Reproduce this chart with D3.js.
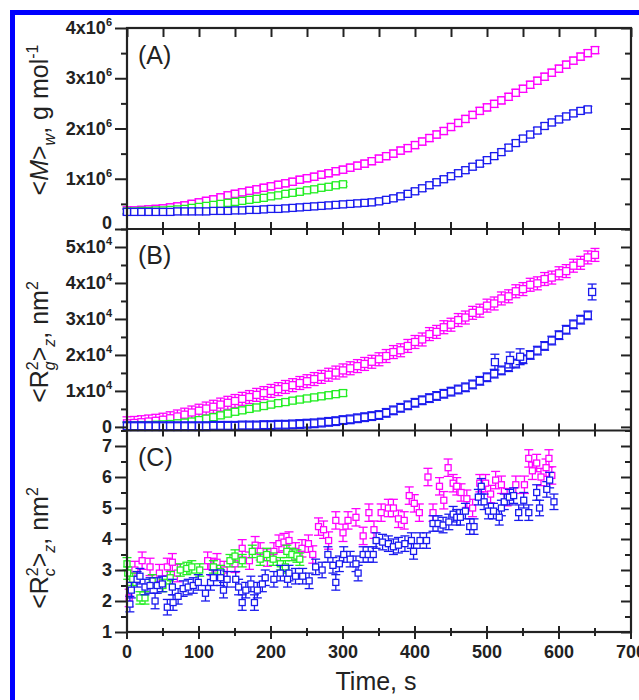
<!DOCTYPE html>
<html>
<head>
<meta charset="utf-8">
<script src="https://cdn.jsdelivr.net/npm/d3@7"></script>
<style>
  body { margin: 0; background: #fff; }
  text { font-family: "Liberation Sans", Arial, sans-serif; }
</style>
</head>
<body>
<svg id="chart" width="639" height="700"></svg>
<script>
  // ---- data ----
  // panels A and B: sampled every 10 s (A in 1e6 g/mol, B in 1e4 nm^2)
  var timesAB = [0,10,20,30,40,50,60,70,80,90,100,110,120,130,140,150,160,170,180,190,
    200,210,220,230,240,250,260,270,280,290,300,310,320,330,340,350,360,370,380,390,
    400,410,420,430,440,450,460,470,480,490,500,510,520,530,540,550,560,570,580,590,
    600,610,620,630,640,650];

  var magentaA = [0.37,0.37,0.38,0.39,0.40,0.41,0.43,0.45,0.47,0.50,
    0.53,0.56,0.59,0.63,0.67,0.70,0.73,0.76,0.79,0.82,
    0.85,0.88,0.91,0.94,0.98,1.01,1.04,1.08,1.11,1.15,
    1.18,1.22,1.26,1.30,1.35,1.40,1.45,1.50,1.56,1.61,
    1.67,1.74,1.81,1.88,1.95,2.03,2.11,2.19,2.27,2.35,
    2.42,2.49,2.56,2.63,2.71,2.79,2.87,2.95,3.03,3.11,
    3.19,3.27,3.35,3.43,3.50,3.56];
  var blueA = [0.34,0.34,0.34,0.34,0.34,0.34,0.34,0.35,0.35,0.35,
    0.35,0.35,0.36,0.36,0.36,0.37,0.37,0.38,0.38,0.39,
    0.40,0.40,0.41,0.42,0.43,0.44,0.45,0.46,0.47,0.48,
    0.49,0.50,0.51,0.52,0.53,0.55,0.58,0.61,0.65,0.70,
    0.75,0.81,0.87,0.93,0.99,1.05,1.11,1.17,1.24,1.30,
    1.37,1.45,1.53,1.62,1.71,1.80,1.88,1.96,2.05,2.12,
    2.18,2.24,2.30,2.35,2.38];
  var greenA = [0.35,0.35,0.36,0.36,0.37,0.37,0.38,0.39,0.40,0.42,
    0.44,0.46,0.48,0.50,0.52,0.54,0.56,0.58,0.60,0.62,
    0.65,0.67,0.70,0.72,0.74,0.77,0.79,0.82,0.84,0.87,0.89];

  var magentaB = [0.10,0.11,0.13,0.15,0.17,0.20,0.24,0.29,0.34,0.40,
    0.45,0.51,0.56,0.62,0.67,0.72,0.78,0.83,0.89,0.94,
    1.00,1.05,1.11,1.16,1.22,1.27,1.33,1.39,1.45,1.51,
    1.57,1.63,1.69,1.75,1.81,1.88,1.97,2.08,2.13,2.25,
    2.36,2.43,2.58,2.64,2.77,2.84,2.97,3.04,3.17,3.23,
    3.37,3.43,3.57,3.63,3.77,3.83,3.95,3.99,4.11,4.15,
    4.27,4.33,4.48,4.56,4.71,4.78];
  var blueB = [0.02,0.02,0.02,0.02,0.02,0.02,0.02,0.02,0.02,0.02,
    0.02,0.02,0.03,0.03,0.03,0.03,0.04,0.04,0.04,0.05,
    0.05,0.06,0.06,0.07,0.08,0.09,0.10,0.12,0.14,0.16,
    0.19,0.21,0.24,0.27,0.30,0.33,0.39,0.46,0.53,0.60,
    0.67,0.74,0.80,0.86,0.92,0.98,1.04,1.10,1.18,1.28,
    1.38,1.48,1.57,1.66,1.76,1.88,2.00,2.12,2.25,2.40,
    2.55,2.70,2.85,2.98,3.10];
  var blueBOutT = [511,532,546,646];
  var blueBOutV = [1.80,1.86,1.95,3.75];
  var greenB = [0.04,0.04,0.05,0.05,0.06,0.07,0.08,0.10,0.12,0.15,
    0.19,0.23,0.27,0.32,0.37,0.42,0.46,0.50,0.54,0.58,
    0.62,0.66,0.69,0.73,0.76,0.79,0.82,0.85,0.88,0.91,0.94];

  // panel C: scattered points, nm^2
  var magentaCT = [3,11,21,32,45,56,63,70,112,118,125,135,150,160,170,178,185,195,204,211,
    218,225,234,243,252,258,266,273,280,290,300,307,318,328,336,343,353,363,370,377,
    385,392,399,406,418,425,434,440,446,453,458,464,472,480,490,498,505,512,520,528,
    540,552,558,563,569,575,582,586,590];
  var magentaCV = [2.1,3.0,3.3,3.1,2.9,3.1,3.25,2.9,3.3,3.1,3.25,3.0,3.2,3.7,3.3,3.8,3.6,3.4,3.6,3.85,
    3.9,3.95,3.6,3.7,3.85,3.5,4.4,4.3,3.95,4.6,4.2,4.6,4.7,4.1,4.85,4.3,4.85,5.0,5.0,4.65,
    4.6,5.4,5.15,4.85,6.0,4.85,5.7,5.25,6.3,5.8,5.7,5.5,5.3,5.0,5.8,5.8,5.45,5.9,5.75,5.35,
    5.75,5.75,6.6,6.2,6.45,6.0,6.3,6.6,6.05];
  var blueCT = [4,6,14,18,25,32,39,42,49,56,63,64,71,78,85,92,99,109,116,120,
    130,134,139,151,155,160,165,172,177,181,188,192,204,213,223,225,234,244,253,262,
    271,279,286,290,295,301,310,318,321,328,335,342,346,355,363,370,377,386,395,398,
    407,416,425,432,439,447,453,458,463,470,476,482,488,492,496,502,509,517,520,524,
    531,537,544,551,558,569,573,583,587,593];
  var blueCV = [1.9,2.35,2.7,2.8,2.45,2.5,2.0,2.5,2.55,1.8,2.45,1.95,2.15,2.4,2.45,2.5,2.6,2.25,2.6,2.75,
    2.75,2.35,2.7,2.7,2.45,1.95,2.35,2.55,1.95,2.35,2.55,2.75,2.7,2.9,2.7,2.9,2.8,2.8,2.65,3.1,
    3.0,3.5,3.15,2.6,3.2,3.5,3.35,3.2,2.9,3.5,3.5,3.5,3.95,3.9,3.85,3.75,3.8,3.85,3.95,3.6,
    3.95,3.95,4.5,4.5,4.45,4.55,4.8,4.7,4.7,4.9,4.4,4.4,5.35,5.7,5.2,4.9,4.9,4.7,5.0,5.2,
    5.35,5.4,4.85,5.25,4.85,5.5,5.0,5.6,5.9,5.2];
  var greenCT = [0,1,8,18,25,35,50,60,74,83,90,101,120,130,143,150,160,174,185,194,
    203,213,220,222,229,236,240];
  var greenCV = [3.2,2.9,2.7,2.1,2.1,2.65,2.5,2.75,3.0,3.05,3.1,3.0,3.1,2.95,3.3,3.45,3.3,3.6,3.35,3.5,
    3.35,3.2,3.1,3.6,3.5,3.45,3.35];

  var xTicks = [0,100,200,300,400,500,600,700];
  var ticksA = [0,1,2,3,4];
  var ticksB = [0,1,2,3,4,5];
  var ticksC = [1,2,3,4,5,6,7];

  var colMag = '#ff00ff', colBlue = '#1a1aee', colGreen = '#22ee22';

  // ---- layout ----
  var svg = d3.select('#chart');
  var x = d3.scaleLinear().domain([0, 700]).range([127, 631]);
  var yA = d3.scaleLinear().domain([0, 4]).range([229, 28]);
  var yB = d3.scaleLinear().domain([-0.1, 5.5]).range([430.5, 229]);
  var yC = d3.scaleLinear().domain([1, 7.5]).range([632, 430.5]);

  function zip(ts, vs) {
    return vs.map(function(v, i) { return {t: ts[i], v: v}; });
  }

  function drawSeries(pts, y, err, color, size) {
    var h = size / 2;
    var g = svg.append('g').attr('stroke', color).attr('stroke-width', 1.3);
    g.selectAll('line.eb').data(pts).enter().append('line')
      .attr('x1', function(d) { return x(d.t); }).attr('x2', function(d) { return x(d.t); })
      .attr('y1', function(d) { return y(d.v - err); }).attr('y2', function(d) { return y(d.v + err); });
    g.selectAll('line.capt').data(pts).enter().append('line')
      .attr('x1', function(d) { return x(d.t) - 4.5; }).attr('x2', function(d) { return x(d.t) + 4.5; })
      .attr('y1', function(d) { return y(d.v + err); }).attr('y2', function(d) { return y(d.v + err); });
    g.selectAll('line.capb').data(pts).enter().append('line')
      .attr('x1', function(d) { return x(d.t) - 4.5; }).attr('x2', function(d) { return x(d.t) + 4.5; })
      .attr('y1', function(d) { return y(d.v - err); }).attr('y2', function(d) { return y(d.v - err); });
    g.selectAll('rect').data(pts).enter().append('rect')
      .attr('x', function(d) { return x(d.t) - h; })
      .attr('y', function(d) { return y(d.v) - h; })
      .attr('width', size).attr('height', size)
      .attr('fill', '#fff');
  }

  // panel A
  drawSeries(zip(timesAB, magentaA), yA, 0.07, colMag, 7);
  drawSeries(zip(timesAB, greenA), yA, 0.04, colGreen, 7);
  drawSeries(zip(timesAB, blueA), yA, 0.06, colBlue, 7);
  // panel B
  drawSeries(zip(timesAB, magentaB), yB, 0.18, colMag, 7);
  drawSeries(zip(timesAB, greenB), yB, 0.08, colGreen, 7);
  drawSeries(zip(timesAB, blueB), yB, 0.12, colBlue, 7);
  drawSeries(zip(blueBOutT, blueBOutV), yB, 0.22, colBlue, 7);
  // panel C
  drawSeries(zip(magentaCT, magentaCV), yC, 0.28, colMag, 6);
  drawSeries(zip(greenCT, greenCV), yC, 0.2, colGreen, 6);
  drawSeries(zip(blueCT, blueCV), yC, 0.25, colBlue, 6);

  // ---- frames and ticks ----
  var axisCol = '#222';
  svg.append('rect').attr('x', x(0)).attr('y', yA(4))
    .attr('width', x(700) - x(0)).attr('height', yC(1) - yA(4))
    .attr('fill', 'none').attr('stroke', axisCol).attr('stroke-width', 2.2);
  [yA(0), yB(-0.1)].forEach(function(yy) {
    svg.append('line').attr('x1', x(0)).attr('x2', x(700)).attr('y1', yy).attr('y2', yy)
      .attr('stroke', axisCol).attr('stroke-width', 2.2);
  });

  function styleAxis(g) {
    g.select('.domain').remove();
    g.selectAll('line').attr('stroke', axisCol).attr('stroke-width', 2);
  }

  var panels = [
    {y: yA, major: ticksA, minor: [0.5,1.5,2.5,3.5]},
    {y: yB, major: ticksB, minor: [0.5,1.5,2.5,3.5,4.5,5.5]},
    {y: yC, major: ticksC, minor: [1.5,2.5,3.5,4.5,5.5,6.5,7.5]}
  ];
  panels.forEach(function(p) {
    svg.append('g').attr('transform', 'translate(' + x(0) + ',0)')
      .call(d3.axisLeft(p.y).tickValues(p.major).tickSize(12).tickFormat('')).call(styleAxis);
    svg.append('g').attr('transform', 'translate(' + x(0) + ',0)')
      .call(d3.axisLeft(p.y).tickValues(p.minor).tickSize(6).tickFormat('')).call(styleAxis);
    svg.append('g').attr('transform', 'translate(' + x(700) + ',0)')
      .call(d3.axisRight(p.y).tickValues(p.major).tickSize(-10).tickFormat('')).call(styleAxis);
    svg.append('g').attr('transform', 'translate(' + x(700) + ',0)')
      .call(d3.axisRight(p.y).tickValues(p.minor).tickSize(-6).tickFormat('')).call(styleAxis);
  });

  var xAll = d3.range(0, 701, 50);
  var xMinor = xAll.filter(function(t) { return t % 100 !== 0; });
  // top edge, ticks inward
  svg.append('g').attr('transform', 'translate(0,' + yA(4) + ')')
    .call(d3.axisBottom(x).tickValues(xAll).tickSize(9).tickFormat('')).call(styleAxis);
  // panel boundaries, ticks crossing
  [yA(0), yB(-0.1)].forEach(function(yy) {
    svg.append('g').selectAll('line').data(xAll).enter().append('line')
      .attr('x1', function(d) { return x(d); }).attr('x2', function(d) { return x(d); })
      .attr('y1', yy - 7).attr('y2', yy + 6)
      .attr('stroke', axisCol).attr('stroke-width', 2);
  });
  // bottom axis
  svg.append('g').selectAll('line').data(xTicks).enter().append('line')
    .attr('x1', function(d) { return x(d); }).attr('x2', function(d) { return x(d); })
    .attr('y1', yC(1) - 6).attr('y2', yC(1) + 7)
    .attr('stroke', axisCol).attr('stroke-width', 2);
  svg.append('g').selectAll('line').data(xMinor).enter().append('line')
    .attr('x1', function(d) { return x(d); }).attr('x2', function(d) { return x(d); })
    .attr('y1', yC(1) - 4).attr('y2', yC(1) + 4)
    .attr('stroke', axisCol).attr('stroke-width', 2);

  // ---- tick labels ----
  svg.append('g').selectAll('text').data(xTicks).enter().append('text')
    .attr('x', function(d) { return x(d); }).attr('y', 658)
    .attr('text-anchor', 'middle').attr('font-size', 18).attr('font-weight', 'bold')
    .attr('fill', '#222').text(function(d) { return d; });

  function yLabels(scale, vals, exp, zeroShift) {
    var t = svg.append('g').selectAll('text').data(vals).enter().append('text')
      .attr('x', 112)
      .attr('y', function(d) { return scale(d) + 6 - (d === 0 ? zeroShift : 0); })
      .attr('text-anchor', 'end').attr('font-size', 18).attr('font-weight', 'bold')
      .attr('fill', '#222');
    t.each(function(d) {
      var el = d3.select(this);
      if (d === 0 || !exp) { el.text(d); return; }
      el.append('tspan').text(d + 'x10');
      el.append('tspan').attr('font-size', 11).attr('dy', -8).text(exp);
    });
  }
  yLabels(yA, ticksA, '6', 6);
  yLabels(yB, ticksB, '4', 0);
  yLabels(yC, ticksC, null, 0);

  // ---- panel labels ----
  [['(A)', 64], ['(B)', 264], ['(C)', 466]].forEach(function(l) {
    svg.append('text').attr('x', 138).attr('y', l[1]).attr('font-size', 25)
      .attr('fill', '#222').text(l[0]);
  });

  // ---- axis titles ----
  function yTitle(cy, parts) {
    var t = svg.append('text')
      .attr('transform', 'translate(48,' + cy + ') rotate(-90)')
      .attr('text-anchor', 'middle').attr('font-size', 25).attr('fill', '#222');
    parts.forEach(function(p) {
      var s = t.append('tspan').text(p.s);
      if (p.size) s.attr('font-size', p.size);
      if (p.dy) s.attr('dy', p.dy);
      if (p.dx) s.attr('dx', p.dx);
      if (p.it) s.attr('font-style', 'italic');
    });
  }
  yTitle(120, [
    {s: '<'}, {s: 'M', it: 1}, {s: '>'},
    {s: 'w', size: 16, dy: 7, it: 1},
    {s: ', g mol', dy: -7},
    {s: '-1', size: 16, dy: -10}
  ]);
  yTitle(342, [
    {s: '<R'},
    {s: 'g', size: 16, dy: 7, it: 1},
    {s: '2', size: 16, dy: -17, dx: -9},
    {s: '>', dy: 10},
    {s: 'z', size: 16, dy: 7, it: 1},
    {s: ', nm', dy: -7},
    {s: '2', size: 16, dy: -10}
  ]);
  yTitle(548, [
    {s: '<R'},
    {s: 'c', size: 16, dy: 7, it: 1},
    {s: '2', size: 16, dy: -17, dx: -8},
    {s: '>', dy: 10},
    {s: 'z', size: 16, dy: 7, it: 1},
    {s: ', nm', dy: -7},
    {s: '2', size: 16, dy: -10}
  ]);
  svg.append('text').attr('x', 376).attr('y', 690).attr('text-anchor', 'middle')
    .attr('font-size', 25).attr('fill', '#222').text('Time, s');

  // ---- blue outer frame ----
  svg.append('path').attr('d', 'M12.5,700V12.5H639')
    .attr('fill', 'none').attr('stroke', '#0000ff').attr('stroke-width', 5);
</script>
</body>
</html>
